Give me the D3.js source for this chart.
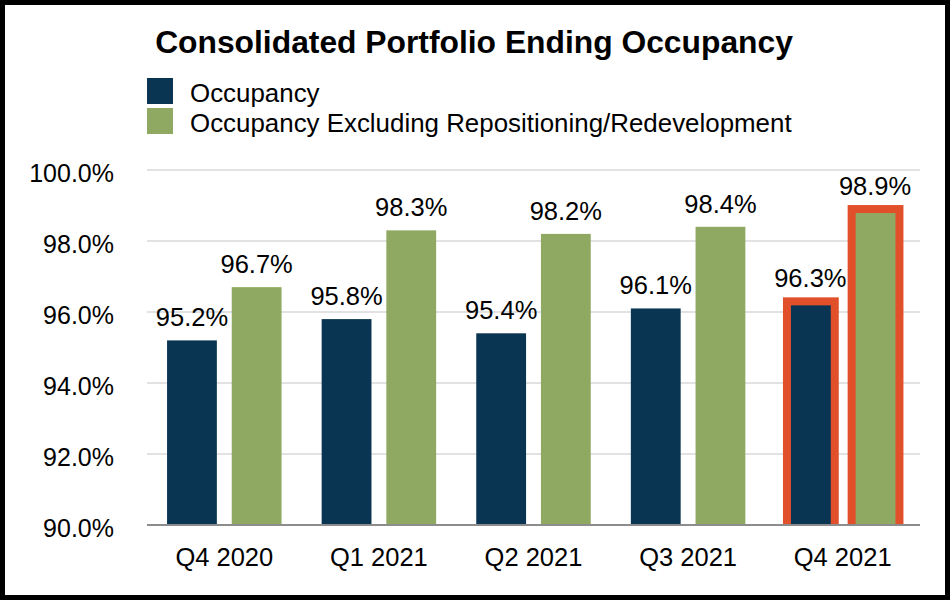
<!DOCTYPE html>
<html>
<head>
<meta charset="utf-8">
<script src="https://cdn.jsdelivr.net/npm/d3@7"></script>
<style>
	body { margin: 0; background: #fff; }
	svg { display: block; font-family: "Liberation Sans", Arial, sans-serif; }
</style>
</head>
<body>
<svg id="chart" width="950" height="600"></svg>
<script>

var quarters = [ "Q4 2020", "Q1 2021", "Q2 2021", "Q3 2021", "Q4 2021" ];
var occupancy = [ 95.2, 95.8, 95.4, 96.1, 96.3 ];
var occupancyExcl = [ 96.7, 98.3, 98.2, 98.4, 98.9 ];
var seriesNames = [ "Occupancy", "Occupancy Excluding Repositioning/Redevelopment" ];
var yTicks = [ 90, 92, 94, 96, 98, 100 ];
var highlight = "Q4 2021";

var colors = [ "#0a3552", "#8fa962" ];

var svg = d3.select("#chart");
var width = 950, height = 600;
var [ mT, mR, mB, mL ] = [ 170, 30, 75, 147 ];		// plot box

// frame
svg.append("rect")
	.attr("x", 2.5).attr("y", 2.5)
	.attr("width", width - 5).attr("height", height - 5)
	.attr("fill", "#fff")
	.attr("stroke", "#000")
	.attr("stroke-width", 5);

// title
svg.append("text")
	.attr("x", 474).attr("y", 53)
	.attr("text-anchor", "middle")
	.attr("font-size", 31.8)
	.attr("font-weight", "bold")
	.text("Consolidated Portfolio Ending Occupancy");

// legend
var leg = svg.append("g");
seriesNames.forEach((s, i) => {
	leg.append("rect")
		.attr("x", mL).attr("y", 78 + i*30)
		.attr("width", 26).attr("height", 26)
		.attr("fill", colors[i]);
	leg.append("text")
		.attr("x", 190).attr("y", 102 + i*30)
		.attr("font-size", 25.9)
		.text(s);
});

var x = d3.scaleBand()
	.domain(quarters)
	.range([ mL, width - mR ]);

var xs = d3.scaleBand()
	.domain([0, 1])
	.range([ 0, x.bandwidth() ])
	.paddingInner(0.23)
	.paddingOuter(0.31);

var y = d3.scaleLinear([ 90, 100 ], [ height - mB, mT ]);

// grid
svg.append("g")
	.selectAll("line")
	.data(yTicks.filter(t => t > 90))
	.join("line")
	.attr("x1", mL).attr("x2", width - mR)
	.attr("y1", d => y(d)).attr("y2", d => y(d))
	.attr("stroke", "#d9d9d9")
	.attr("stroke-width", 1.5);

// y labels
svg.append("g")
	.selectAll("text")
	.data(yTicks)
	.join("text")
	.attr("x", 114)
	.attr("y", d => y(d) + 12)
	.attr("text-anchor", "end")
	.attr("font-size", 25)
	.text(d => d3.format(".1f")(d) + "%");

svg.append("defs").append("clipPath")
	.attr("id", "plotclip")
	.append("rect")
	.attr("x", 0).attr("y", 0)
	.attr("width", width).attr("height", y(90));

var rows = [];
quarters.forEach((q, i) => {
	rows.push({ q: q, s: 0, v: occupancy[i] });
	rows.push({ q: q, s: 1, v: occupancyExcl[i] });
});

var bw = xs.bandwidth();

svg.append("g")
	.attr("clip-path", "url(#plotclip)")
	.selectAll("rect")
	.data(rows)
	.join("rect")
	.attr("x", d => x(d.q) + xs(d.s) + (d.q === highlight ? 1.5 : 0))
	.attr("y", d => y(d.v))
	.attr("width", d => d.q === highlight ? bw - 2 : bw)
	.attr("height", d => y(90) - y(d.v) + 6)
	.attr("fill", d => colors[d.s])
	.attr("stroke", d => d.q === highlight ? "#e2502b" : "none")
	.attr("stroke-width", 8);

// value labels
svg.append("g")
	.selectAll("text")
	.data(rows)
	.join("text")
	.attr("x", d => x(d.q) + xs(d.s) + bw/2)
	.attr("y", d => y(d.v) - 14)
	.attr("text-anchor", "middle")
	.attr("font-size", 25.5)
	.text(d => d3.format(".1f")(d.v) + "%");

// baseline
svg.append("line")
	.attr("x1", mL).attr("x2", width - mR)
	.attr("y1", y(90)).attr("y2", y(90))
	.attr("stroke", "#8c8c8c")
	.attr("stroke-width", 2);

// x labels
svg.append("g")
	.selectAll("text")
	.data(quarters)
	.join("text")
	.attr("x", d => x(d) + x.bandwidth()/2)
	.attr("y", 566)
	.attr("text-anchor", "middle")
	.attr("font-size", 25.5)
	.text(d => d);

</script>
</body>
</html>
